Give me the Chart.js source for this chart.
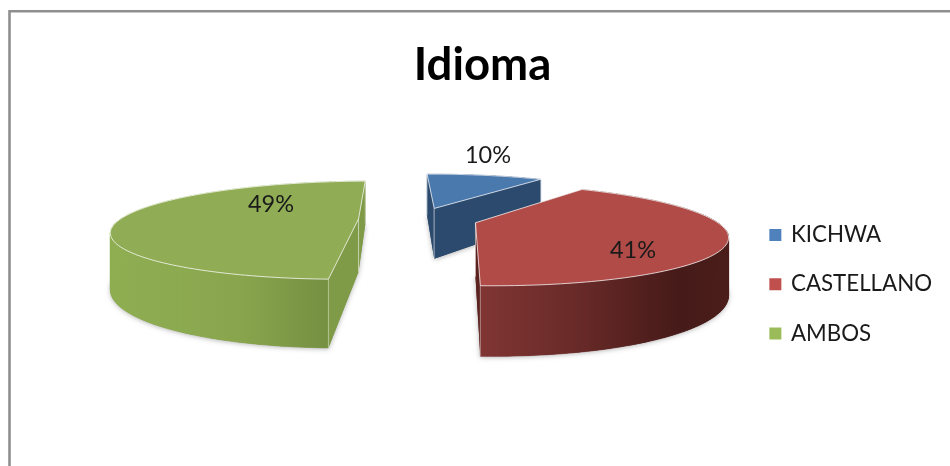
<!DOCTYPE html>
<html>
<head>
<meta charset="utf-8">
<script src="https://cdn.jsdelivr.net/npm/chart.js@4"></script>
<style>
html,body{margin:0;padding:0;background:#fff}
canvas{display:block;filter:blur(0.45px)}
</style>
</head>
<body>
<canvas id="c" width="950" height="466"></canvas>
<script>
const categories = ['KICHWA', 'CASTELLANO', 'AMBOS'];
const shares = [10, 41, 49];
const legendColors = ['#4F81BD', '#C0504D', '#9BBB59'];
const topColors = ['#4a79ae', '#b04b47', '#90ad55'];
const faceColors = ['#2c4a6e', '#5c2220', '#7f9b48'];
const wallStops = [
  [[0, '#2c4a6e'], [1, '#2c4a6e']],
  [[0, '#803533'], [0.4, '#682a28'], [0.8, '#451a18'], [1, '#4a1d1a']],
  [[0, '#8fae52'], [0.5, '#89a64e'], [1, '#6c873c']]
];
const labelPositions = [[488, 155], [633, 250], [271, 204]];
const drawOrder = [0, 2, 1];

/* projection of the tilted pie plane */
const view = {x0: 418, y0: 219, b: 238, a: 46.5, k: 0.23, h: 53, explode: 0.25};

function project(X, Y, z) {
  const w = 1 + view.k * Y;
  return {x: view.x0 + view.b * X / w, y: view.y0 - view.a * Y / w + z * view.h / w};
}
function poly(ctx, pts) {
  ctx.beginPath();
  pts.forEach((p, i) => i ? ctx.lineTo(p.x, p.y) : ctx.moveTo(p.x, p.y));
  ctx.closePath();
}

const pie3d = {
  id: 'pie3d',
  beforeDraw(chart) {
    const ctx = chart.ctx;
    ctx.save();
    ctx.strokeStyle = '#8f8f8f';
    ctx.lineWidth = 2.6;
    ctx.beginPath();
    ctx.moveTo(9.5, 466);
    ctx.lineTo(9.5, 11.3);
    ctx.lineTo(950, 11.3);
    ctx.stroke();
    ctx.restore();
  },
  beforeDatasetsDraw(chart) {
    const ctx = chart.ctx;
    const arcs = chart.getDatasetMeta(0).data;
    ctx.save();
    drawOrder.forEach(i => {
      const arc = arcs[i];
      const s = arc.startAngle + Math.PI / 2, e = arc.endAngle + Math.PI / 2;
      const mid = (s + e) / 2;
      const ox = view.explode * Math.sin(mid), oy = view.explode * Math.cos(mid);
      const apex = z => project(ox, oy, z);
      const rim = (t, z) => project(ox + Math.sin(t), oy + Math.cos(t), z);
      const steps = 120;
      const angles = [];
      for (let n = 0; n <= steps; n++) angles.push(s + (e - s) * n / steps);
      const topRim = angles.map(t => rim(t, 0));
      const lowRim = angles.map(t => rim(t, 1));

      /* soft shadow */
      ctx.save();
      ctx.shadowColor = 'rgba(0,0,0,0.3)';
      ctx.shadowBlur = 5;
      ctx.shadowOffsetY = 1;
      ctx.fillStyle = faceColors[i];
      poly(ctx, [apex(1), ...lowRim]);
      ctx.fill();
      ctx.restore();

      /* outer wall, one strip at a time */
      const xs = topRim.map(p => p.x);
      const g = ctx.createLinearGradient(Math.min(...xs), 0, Math.max(...xs), 0);
      wallStops[i].forEach(st => g.addColorStop(st[0], st[1]));
      ctx.fillStyle = g;
      ctx.strokeStyle = g;
      ctx.lineWidth = 0.6;
      for (let n = 0; n < steps; n++) {
        poly(ctx, [topRim[n], topRim[n + 1], lowRim[n + 1], lowRim[n]]);
        ctx.fill();
        ctx.stroke();
      }

      /* radial faces, farther first */
      const faces = [s, e].sort((p, q) => Math.cos(q) - Math.cos(p));
      faces.forEach(t => {
        ctx.fillStyle = faceColors[i];
        poly(ctx, [apex(0), rim(t, 0), rim(t, 1), apex(1)]);
        ctx.fill();
        ctx.strokeStyle = 'rgba(255,255,255,0.55)';
        ctx.lineWidth = 0.8;
        ctx.beginPath();
        ctx.moveTo(rim(t, 0).x, rim(t, 0).y);
        ctx.lineTo(rim(t, 1).x, rim(t, 1).y);
        ctx.moveTo(apex(0).x, apex(0).y);
        ctx.lineTo(apex(1).x, apex(1).y);
        ctx.stroke();
      });

      /* top face */
      ctx.fillStyle = topColors[i];
      poly(ctx, [apex(0), ...topRim]);
      ctx.fill();
      ctx.strokeStyle = 'rgba(255,255,255,0.75)';
      ctx.lineWidth = 1;
      ctx.stroke();
    });

    /* percentage labels */
    ctx.fillStyle = '#1a1a1a';
    ctx.font = '23.5px Lato';
    ctx.textAlign = 'center';
    ctx.textBaseline = 'middle';
    const total = shares.reduce((p, q) => p + q, 0);
    shares.forEach((v, i) => {
      ctx.fillText(Math.round(v / total * 100) + '%', labelPositions[i][0], labelPositions[i][1]);
    });
    ctx.restore();
    return false;
  }
};

new Chart(document.getElementById('c'), {
  type: 'pie',
  data: {
    labels: categories,
    datasets: [{data: shares, backgroundColor: legendColors, borderColor: legendColors, borderWidth: 3}]
  },
  options: {
    responsive: false,
    animation: false,
    rotation: -1.3,
    layout: {padding: {left: 23, right: 8, top: 0, bottom: 0}},
    plugins: {
      tooltip: {enabled: false},
      title: {
        display: true,
        text: 'Idioma',
        color: '#000',
        font: {family: 'Lato', size: 45.5, weight: 'bold'},
        padding: {top: 38, bottom: 10}
      },
      legend: {
        position: 'right',
        fullSize: false,
        labels: {
          boxWidth: 9,
          boxHeight: 9,
          padding: 27,
          color: '#1a1a1a',
          font: {family: 'Lato', size: 22.3}
        }
      }
    }
  },
  plugins: [pie3d]
});
</script>
</body>
</html>
